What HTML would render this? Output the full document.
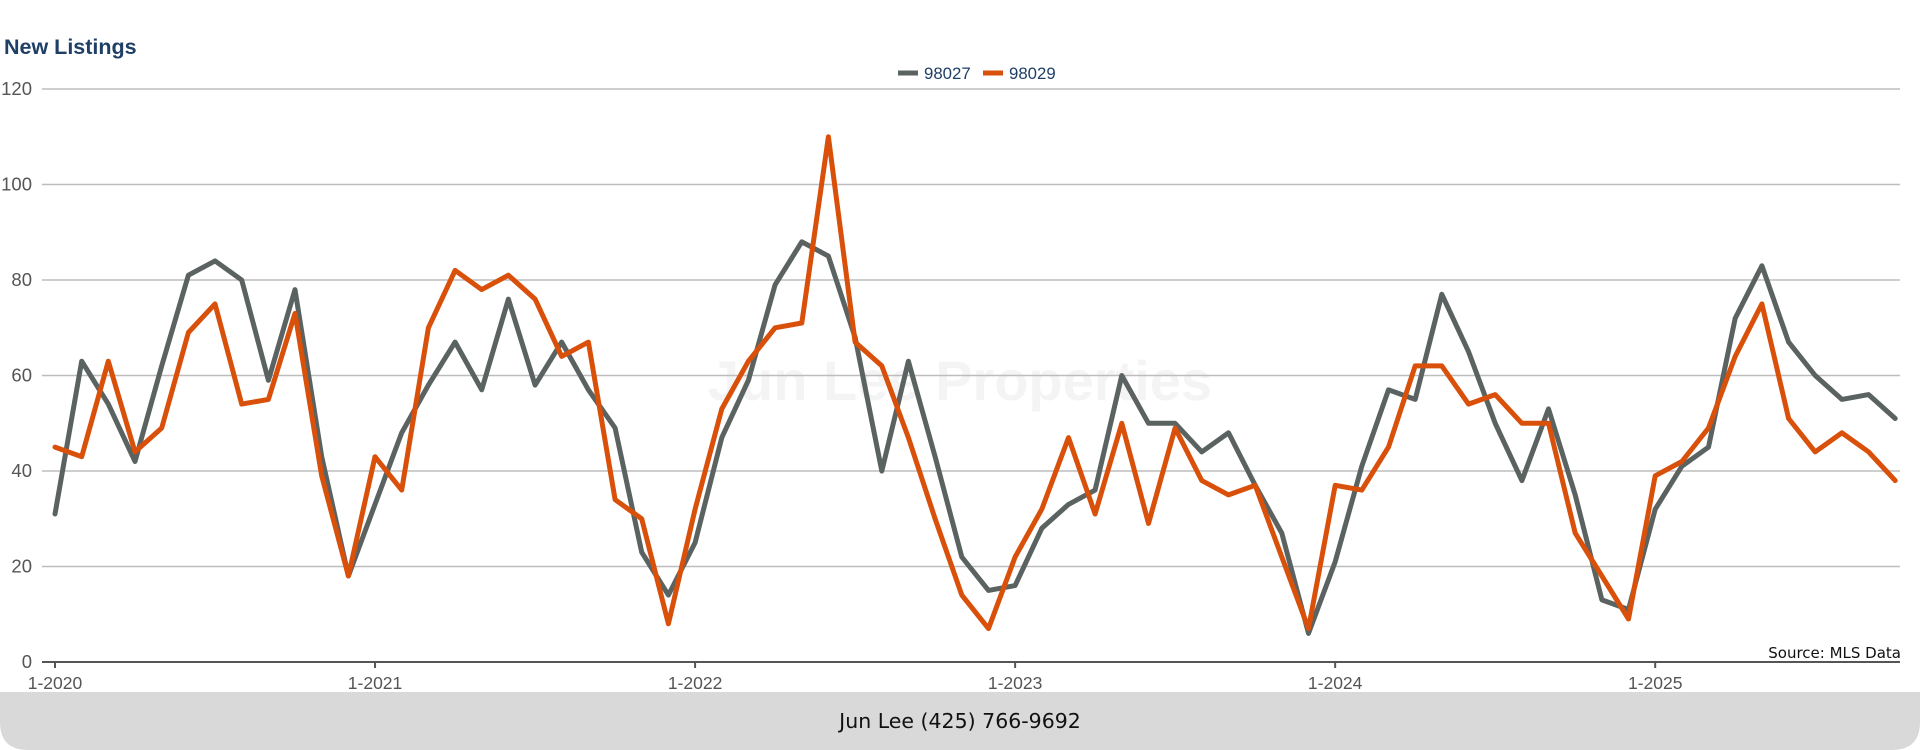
<!DOCTYPE html>
<html><head><meta charset="utf-8"><style>
html,body{margin:0;padding:0;background:#fff;width:1920px;height:750px;overflow:hidden;font-family:"Liberation Sans",sans-serif}
</style></head><body>
<svg width="1920" height="750" viewBox="0 0 1920 750">
<rect x="0" y="0" width="1920" height="750" fill="#fff"/>
<path d="M0,692 H1920 V722 Q1920,750 1892,750 H28 Q0,750 0,722 Z" fill="#d9d9d9"/>
<text x="960" y="728" text-anchor="middle" font-family="'DejaVu Sans',sans-serif" font-size="20.5" fill="#111">Jun Lee (425) 766-9692</text>
<text x="4" y="54" font-size="21.5" font-weight="bold" fill="#1f3f66">New Listings</text>
<text x="960" y="400" text-anchor="middle" font-size="56" font-weight="bold" fill="#f4f4f4">Jun Lee Properties</text>
<g id="grid"></g>
<g id="axes"></g>
<g id="series"></g>
<g>
<line x1="898" y1="73" x2="918" y2="73" stroke="#5a6361" stroke-width="5"/>
<text x="924" y="79" font-size="16.8" fill="#1f3f66">98027</text>
<line x1="983" y1="73" x2="1003" y2="73" stroke="#d9500a" stroke-width="5"/>
<text x="1009" y="79" font-size="16.8" fill="#1f3f66">98029</text>
</g>
<text x="1901" y="658" text-anchor="end" font-family="'DejaVu Sans',sans-serif" font-size="15" fill="#111">Source: MLS Data</text>
</svg>
<script>
const yTicks = [0, 20, 40, 60, 80, 100, 120];
const xTickLabels = ["1-2020", "1-2021", "1-2022", "1-2023", "1-2024", "1-2025"];
const s98027 = [31,63,54,42,62,81,84,80,59,78,43,18, 33,48,58,67,57,76,58,67,57,49,23,14, 25,47,59,79,88,85,68,40,63,43,22,15, 16,28,33,36,60,50,50,44,48,37,27,6, 21,41,57,55,77,65,50,38,53,35,13,11, 32,41,45,72,83,67,60,55,56,51];
const s98029 = [45,43,63,44,49,69,75,54,55,73,39,18, 43,36,70,82,78,81,76,64,67,34,30,8, 32,53,63,70,71,110,67,62,47,30,14,7, 22,32,47,31,50,29,49,38,35,37,22,7, 37,36,45,62,62,54,56,50,50,27,18,9, 39,42,49,64,75,51,44,48,44,38];

const NS = "http://www.w3.org/2000/svg";
const X0 = 55, STEP = 26.67, Y0 = 662, YMAX = 120, YTOP = 89;
const xScale = i => X0 + i * STEP;
const yScale = v => Y0 - (v / YMAX) * (Y0 - YTOP);
function mk(tag, attrs, parent) {
  const e = document.createElementNS(NS, tag);
  for (const k in attrs) e.setAttribute(k, attrs[k]);
  parent.appendChild(e);
  return e;
}
const grid = document.getElementById('grid');
const axes = document.getElementById('axes');
const series = document.getElementById('series');
yTicks.forEach(v => {
  if (v > 0) {
    const l = mk('line', {x1: 42, x2: 1900, y1: yScale(v), y2: yScale(v), stroke: '#bdbdbd', 'stroke-width': 1.5}, grid);
    
    
  }
  const t = mk('text', {x: 32, y: yScale(v) + 6, 'text-anchor': 'end', 'font-size': 18.5, fill: '#555'}, axes);
  t.textContent = v;
  
  
});
const ax = mk('line', {x1: 42, x2: 1900, y1: Y0, y2: Y0, stroke: '#555', 'stroke-width': 2}, axes);


xTickLabels.forEach((lab, k) => {
  const x = xScale(k * 12);
  const tk = mk('line', {x1: x, x2: x, y1: Y0, y2: Y0 + 6, stroke: '#555', 'stroke-width': 2}, axes);
  
  
  const t = mk('text', {x: x, y: 689, 'text-anchor': 'middle', 'font-size': 17.5, fill: '#555'}, axes);
  t.textContent = lab;
  
  
});
function drawLine(vals, color, name) {
  const d = vals.map((v, i) => (i ? 'L' : 'M') + xScale(i).toFixed(1) + ',' + yScale(v).toFixed(1)).join(' ');
  const p = mk('path', {d: d, fill: 'none', stroke: color, 'stroke-width': 5, 'stroke-linejoin': 'round', 'stroke-linecap': 'round'}, series);
  
  
}
drawLine(s98027, '#5a6361', 'line-98027');
drawLine(s98029, '#d9500a', 'line-98029');
</script>
</body></html>
